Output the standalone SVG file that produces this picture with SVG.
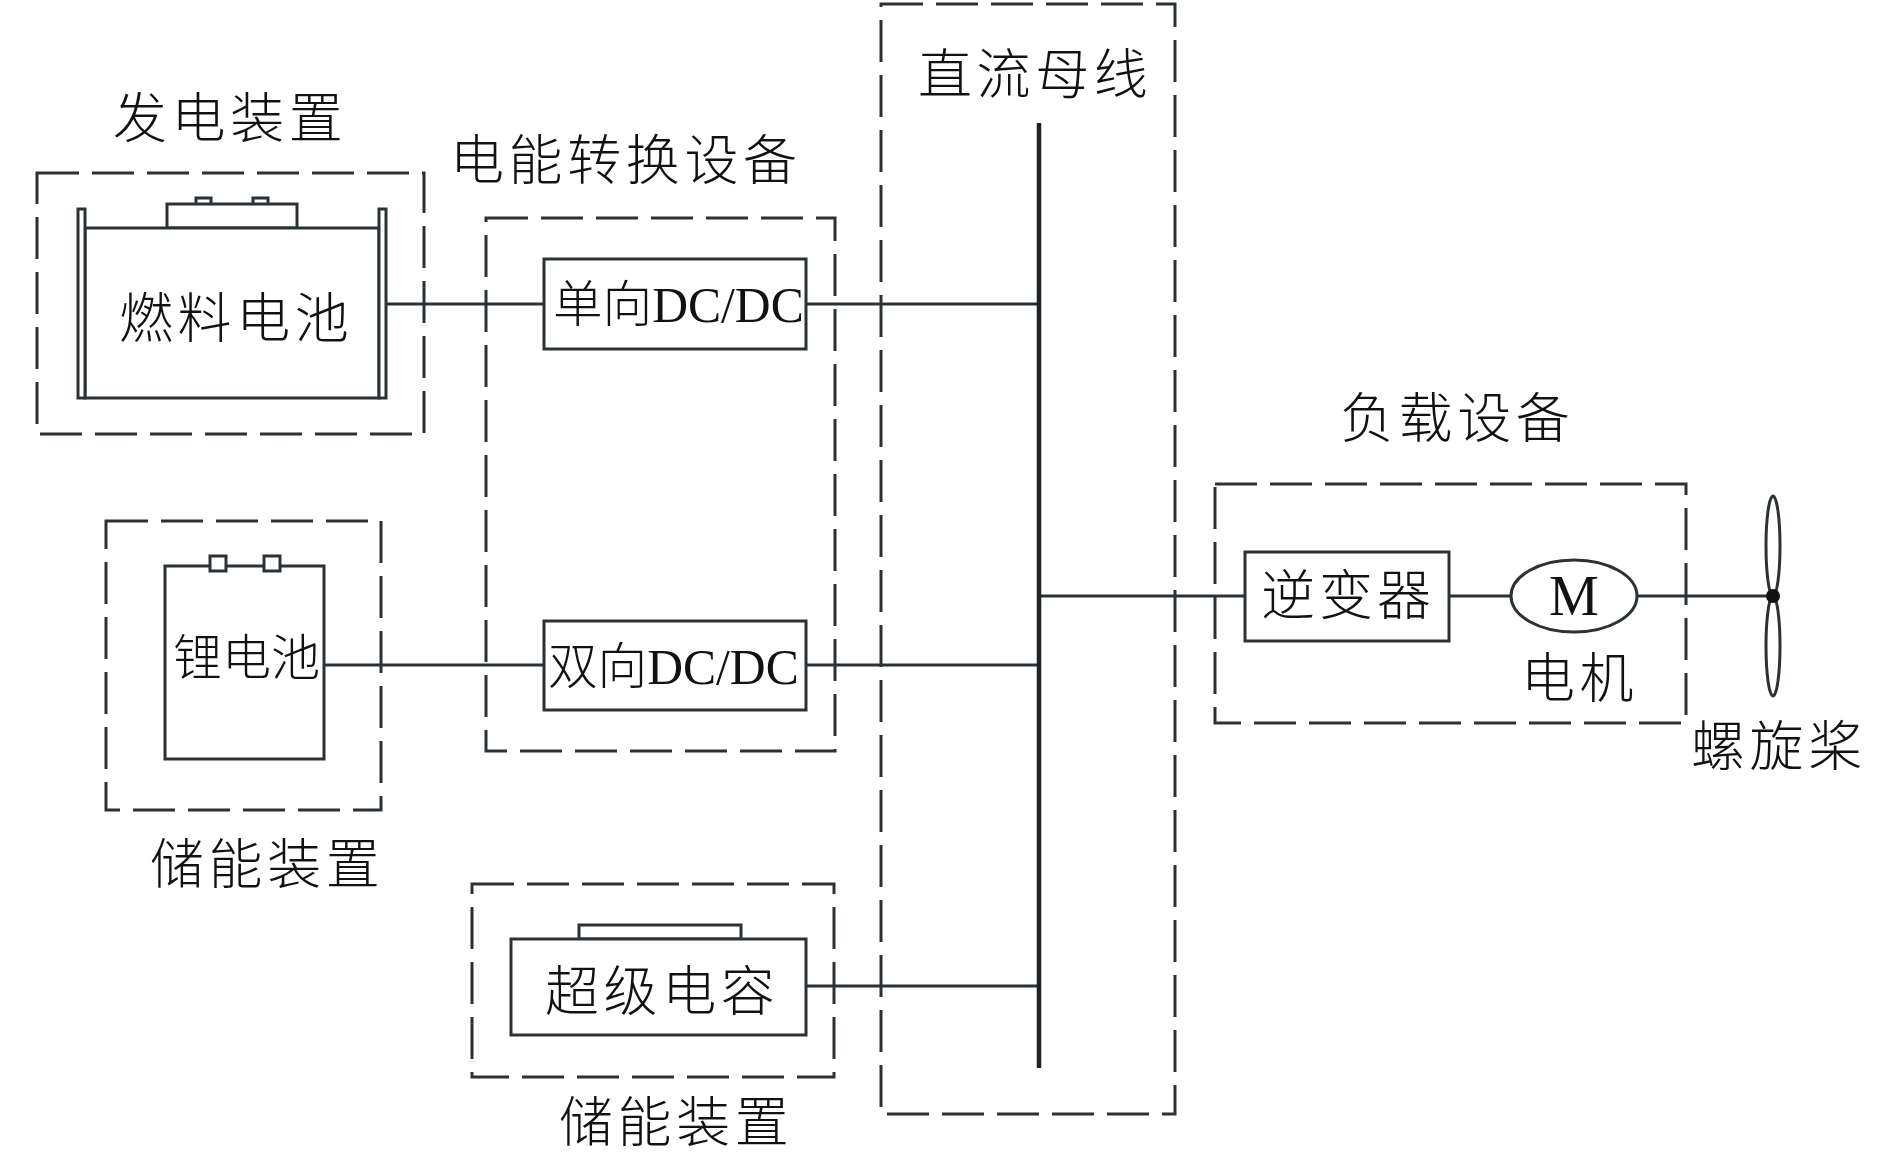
<svg xmlns="http://www.w3.org/2000/svg" width="1890" height="1158" viewBox="0 0 1890 1158">
<style>
.d{fill:none;stroke:#2a3236;stroke-width:3;stroke-dasharray:42 13}
.s{fill:#fff;stroke:#2a3236;stroke-width:3}
.l{fill:none;stroke:#2a3236;stroke-width:3}
text{font-family:"Noto Sans CJK SC","Liberation Serif",sans-serif;fill:#111;font-size:54px;font-weight:300}
.m{font-family:"Liberation Serif","Noto Sans CJK SC",serif;font-size:54px}
</style>
<rect width="1890" height="1158" fill="#fff"/>
<g id="groups">
<rect class="d" x="881" y="4" width="294" height="1110"/>
<rect class="d" x="486" y="218" width="349" height="533"/>
<rect class="d" x="37" y="173" width="387" height="261"/>
<rect class="d" x="106" y="521" width="275" height="289"/>
<rect class="d" x="472" y="884" width="362" height="193"/>
<rect class="d" x="1215" y="484" width="471" height="239"/>
</g>
<g id="connectors">
<path class="l" d="M387 304H544M806 304H1039M324 665H544M806 665H1039M806 986H1039M1039 596H1245M1449 596H1511M1637 596H1773"/>
<path d="M1039 123V1068" fill="none" stroke="#1c2225" stroke-width="4.5"/>
</g>
<g id="fuel-cell">
<rect class="s" x="196" y="198" width="15" height="8"/>
<rect class="s" x="253" y="198" width="15" height="8"/>
<rect class="s" x="167" y="204" width="130" height="24"/>
<rect class="s" x="85" y="228" width="294" height="170"/>
<rect class="s" x="78" y="209" width="7" height="189"/>
<rect class="s" x="379" y="209" width="7" height="189"/>
<text x="119" y="338" letter-spacing="4.6">燃料电池</text>
</g>
<g id="lithium">
<rect class="s" x="165" y="566" width="159" height="193"/>
<rect class="s" x="210" y="556" width="16" height="15"/>
<rect class="s" x="264" y="556" width="16" height="15"/>
<text x="173" y="675" style="font-size:49px">锂电池</text>
</g>
<g id="supercap">
<rect class="s" x="579" y="925" width="162" height="14"/>
<rect class="s" x="511" y="939" width="295" height="96"/>
<text x="545" y="1011" letter-spacing="4.6">超级电容</text>
</g>
<g id="dc-uni">
<rect class="s" x="544" y="259" width="262" height="90"/>
<text x="553" y="322" class="m" style="font-size:49.6px">单向DC/DC</text>
</g>
<g id="dc-bi">
<rect class="s" x="544" y="621" width="262" height="89"/>
<text x="548" y="684" class="m" style="font-size:49.6px">双向DC/DC</text>
</g>
<g id="inverter">
<rect class="s" x="1245" y="552" width="204" height="89"/>
<text x="1261" y="615" letter-spacing="4" style="font-size:54px">逆变器</text>
</g>
<g id="motor">
<ellipse class="s" cx="1574" cy="596" rx="63" ry="36"/>
<text x="1574" y="615" text-anchor="middle" class="m" style="font-size:56px">M</text>
<text x="1521" y="698" letter-spacing="4.6">电机</text>
</g>
<g id="propeller">
<ellipse class="l" cx="1773" cy="546" rx="7" ry="50"/>
<ellipse class="l" cx="1773" cy="646" rx="7" ry="50"/>
<circle cx="1773" cy="596" r="7" fill="#111"/>
</g>
<g id="labels">
<text x="113" y="138" letter-spacing="4.6">发电装置</text>
<text x="450" y="180" letter-spacing="4.6">电能转换设备</text>
<text x="918" y="94" letter-spacing="4.6">直流母线</text>
<text x="1340" y="438" letter-spacing="4.6">负载设备</text>
<text x="150" y="884" letter-spacing="4.6">储能装置</text>
<text x="559" y="1142" letter-spacing="4.6">储能装置</text>
<text x="1691" y="766" letter-spacing="4.6">螺旋桨</text>
</g>
</svg>
